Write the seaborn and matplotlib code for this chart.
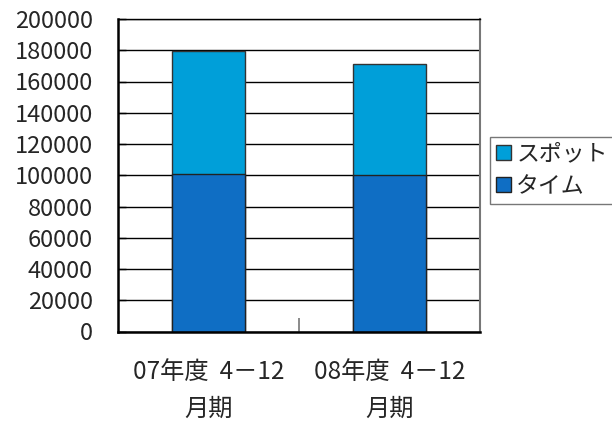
import matplotlib
matplotlib.use("Agg")
import matplotlib.pyplot as plt
import seaborn as sns
import pandas as pd

categories = ["07年度  4－12\n月期", "08年度  4－12\n月期"]
time_values = [101000, 100300]
spot_values = [78800, 71200]
series_names = ["スポット", "タイム"]
y_ticks = list(range(0, 200001, 20000))

sns.set_theme(style="white")
plt.rcParams['font.family'] = ['Noto Sans CJK JP', 'DejaVu Sans']

spot_color = "#009FD9"
time_color = "#0F6EC4"

df = pd.DataFrame({
    "cat": categories,
    "time": time_values,
    "total": [t + s for t, s in zip(time_values, spot_values)],
})

fig = plt.figure(figsize=(6.12, 4.22), dpi=100)
ax = fig.add_axes([118/612, 1 - 331.5/422, (480-118)/612, (331.5-19)/422])

ax.set_axisbelow(True)
for v in y_ticks:
    ax.axhline(v, color="black", lw=1.0, zorder=0)

sns.barplot(data=df, x="cat", y="total", color=spot_color, width=0.403,
            saturation=1, edgecolor="#333333", linewidth=1.0, ax=ax, label=series_names[0])
sns.barplot(data=df, x="cat", y="time", color=time_color, width=0.403,
            saturation=1, edgecolor="#222222", linewidth=1.0, ax=ax, label=series_names[1])
if ax.get_legend() is not None:
    ax.get_legend().remove()

ax.set_xlim(-0.5, 1.5)
ax.set_ylim(0, 200000)
ax.set_yticks(y_ticks)
ax.set_yticklabels([str(v) for v in y_ticks], fontsize=17)
ax.set_xlabel("")
ax.set_ylabel("")
ax.tick_params(axis="y", direction="in", length=6, width=1, color="black", pad=18, left=True)
ax.set_xticks([0, 1])
ax.set_xticklabels(categories, fontsize=17.5, linespacing=1.55)
ax.tick_params(axis="x", length=0, pad=20)
ax.set_xticks([0.5], minor=True)
ax.tick_params(axis="x", which="minor", direction="in", length=10, width=1.2, color="#777777", bottom=True)

for side in ["left", "bottom"]:
    ax.spines[side].set_color("black")
    ax.spines[side].set_linewidth(1.8)
ax.spines["top"].set_color("black")
ax.spines["top"].set_linewidth(1.0)
ax.spines["right"].set_color("#777777")
ax.spines["right"].set_linewidth(1.5)

handles, labels = ax.get_legend_handles_labels()
leg = fig.legend(handles, labels, loc="upper left", bbox_to_anchor=(490/612, 1 - 137/422),
                 fontsize=16.5, frameon=True, fancybox=False, edgecolor="#555555",
                 handlelength=0.65, handleheight=0.65, handletextpad=0.25,
                 borderpad=0.25, labelspacing=0.4, borderaxespad=0)
leg.get_frame().set_linewidth(1.0)

fig.savefig("out.png", dpi=100)
